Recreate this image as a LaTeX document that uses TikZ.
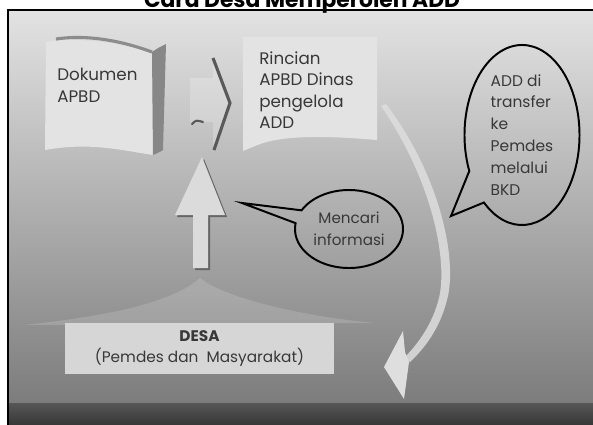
\documentclass[tikz,border=0pt]{standalone}
\usepackage{fontspec}
\setmainfont{Poppins}
\usetikzlibrary{shapes.callouts, shapes.geometric}

\begin{document}
\begin{tikzpicture}[
    x=0.025cm, y=-0.025cm,
    page/.style={fill=black!11},
    txt/.style={anchor=north west, inner sep=0pt, align=left, text=black!78, font=\fontsize{11.9}{15.3}\selectfont},
    balloon/.style={ellipse callout, draw=black, line width=1.4pt, inner sep=0pt, text=black!78},
    blockarrow/.style={fill=black!14}
]
    \useasboundingbox (0,0) rectangle (593,424);
    \shade[top color=black!4, middle color=black!30, bottom color=black!58] (8,-60) rectangle (593,470);
    \shade[top color=black!66, bottom color=black!78] (8,403) rectangle (593,424);
    \fill[white] (0,0) rectangle (8,424);
    \fill[white] (8,0) rectangle (593,10);
    \draw[line width=1.5pt] (600,10) -- (8,10) -- (8,430);
    \node[anchor=base, inner sep=0pt, font=\fontsize{15.5}{20}\selectfont\bfseries] (title) at (302,7) {Cara Desa Memperoleh ADD};

    \fill[white, opacity=0.15] (23,325) .. controls (120,315) and (175,300) .. (200,278) .. controls (220,295) and (290,315) .. (375,323) -- cycle;

    \fill[page] (46,42) .. controls (80,36) and (120,44) .. (152,52) -- (153,155) .. controls (120,150) and (90,142) .. (45,150) -- cycle;
    \fill[black!47] (152,52) .. controls (158,48) .. (166,44) -- (163,150) .. controls (160,152) .. (153,155) -- cycle;
    \draw[black!45, line width=2.2pt] (56,39) .. controls (90,34) and (125,42) .. (152,52);
    \node[txt] (dokumen) at (57,68) {Dokumen\\APBD};

    \fill[white, opacity=0.22] (190,78) -- (213,78) -- (213,58) -- (230,103) -- (213,150) -- (213,122) -- (190,122) -- cycle;
    \draw[black!65, line width=2.2pt] (213,58) -- (230,103) -- (214,150);
    \draw[black!65, line width=1.5pt, line cap=round] (192,124) .. controls (196,120) .. (203,122);

    \fill[page] (243,37) -- (377,37) -- (377,140) .. controls (330,136) and (290,135) .. (263,143) .. controls (255,146) .. (243,151) -- cycle;
    \node[txt] (rincian) at (259,51) {Rincian\\APBD Dinas\\pengelola\\ADD};

    \fill[black!60] (204,159) -- (227,217) -- (210,217) -- (210,270) -- (195,270) -- (195,217) -- (177,217) -- cycle;
    \fill[blockarrow] (202,157) -- (225,215) -- (208,215) -- (208,268) -- (193,268) -- (193,215) -- (175,215) -- cycle;

    \fill[black!13, opacity=0.85] (386,104) .. controls (440,175) and (458,260) .. (447,300) .. controls (440,328) and (425,348) .. (410,362) -- (404,358) .. controls (420,342) and (433,322) .. (439,298) .. controls (448,260) and (432,180) .. (381,106) -- cycle;
    \fill[black!13] (403,331) -- (384,367) -- (404,399) -- (409,362) -- (405,352) -- cycle;

    \node[fill=black!16, minimum width=6.725cm, minimum height=1.275cm, align=center, text=black!78, font=\fontsize{10.9}{15}\selectfont] (desa) at (199.5,348.5) {\textbf{DESA}\\(Pemdes dan\ \ Masyarakat)};

    \coordinate (infotip) at (242,203);
    \node[balloon, minimum width=2.7cm, minimum height=1.95cm, callout absolute pointer={(infotip)}, callout pointer arc=20, align=center, font=\fontsize{10.8}{15.6}\selectfont] (mencari) at (349,229) {Mencari\\informasi};

    \coordinate (transfertip) at (451,216);
    \node[balloon, minimum width=2.875cm, minimum height=4.5cm, callout absolute pointer={(transfertip)}, callout pointer arc=25, align=left, font=\fontsize{11}{15.6}\selectfont] (transfer) at (522,135) {ADD di\\transfer\\ke\\Pemdes\\melalui\\BKD};
\end{tikzpicture}
\end{document}
